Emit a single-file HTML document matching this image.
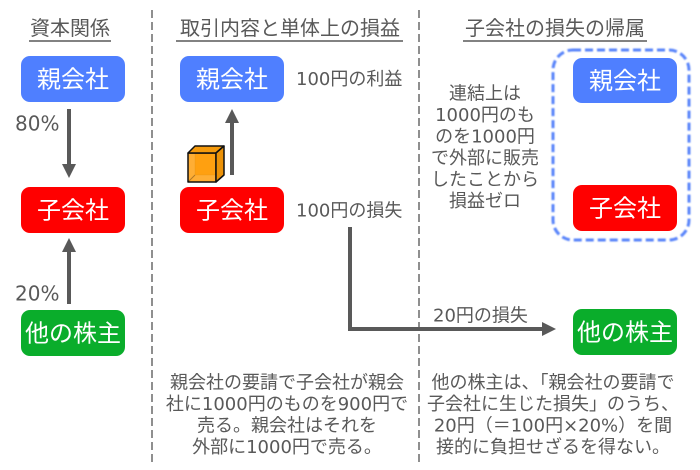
<!DOCTYPE html>
<html>
<head>
<meta charset="utf-8">
<style>
  html, body { margin: 0; padding: 0; background: #ffffff; }
  svg { display: block; }
  text { font-family: "Liberation Sans", "Noto Sans CJK JP", sans-serif; }
  .t { fill: #595959; font-size: 18px; font-family: "DejaVu Sans", "Noto Sans CJK JP", sans-serif; }
  .h { fill: #595959; font-size: 20px; }
  .b { fill: #ffffff; font-size: 24px; }
</style>
</head>
<body>
<svg width="700" height="470" viewBox="0 0 700 470" xmlns="http://www.w3.org/2000/svg">
  <defs>
    <filter id="glow" x="-10%" y="-10%" width="120%" height="120%">
      <feGaussianBlur stdDeviation="0.7"/>
    </filter>
  </defs>

  <!-- dashed column separators -->
  <line x1="152" y1="10" x2="152" y2="462" stroke="#8f8f8f" stroke-width="2" stroke-dasharray="8 4"/>
  <line x1="419" y1="10" x2="419" y2="462" stroke="#8f8f8f" stroke-width="2" stroke-dasharray="8 4"/>

  <!-- titles -->
  <text class="h" x="70" y="35" text-anchor="middle">資本関係</text>
  <line x1="29" y1="41" x2="111" y2="41" stroke="#595959" stroke-width="1.5"/>
  <text class="h" x="290" y="35" text-anchor="middle">取引内容と単体上の損益</text>
  <line x1="176" y1="41" x2="403" y2="41" stroke="#595959" stroke-width="1.5"/>
  <text class="h" x="555" y="35" text-anchor="middle">子会社の損失の帰属</text>
  <line x1="463" y1="41" x2="647" y2="41" stroke="#595959" stroke-width="1.5"/>

  <!-- LEFT column boxes -->
  <rect x="21" y="56" width="104" height="46" rx="9" fill="#4f7fff"/>
  <text class="b" x="73" y="87.5" text-anchor="middle">親会社</text>
  <rect x="21" y="187" width="104" height="46" rx="9" fill="#ff0000"/>
  <text class="b" x="73" y="218.5" text-anchor="middle">子会社</text>
  <rect x="21" y="310" width="104" height="46" rx="9" fill="#0aad2b"/>
  <text class="b" x="73" y="341.5" text-anchor="middle">他の株主</text>

  <!-- left arrows -->
  <line x1="69" y1="109" x2="69" y2="166" stroke="#595959" stroke-width="4"/>
  <polygon points="62,164 76,164 69,178" fill="#595959"/>
  <text class="t" x="15" y="130.5" style="font-size:20px">80%</text>

  <line x1="69" y1="304" x2="69" y2="250" stroke="#595959" stroke-width="4"/>
  <polygon points="62,252 76,252 69,238" fill="#595959"/>
  <text class="t" x="15" y="300.5" style="font-size:20px">20%</text>

  <!-- MIDDLE column -->
  <rect x="180" y="56" width="104" height="46" rx="9" fill="#4f7fff"/>
  <text class="b" x="232" y="87.5" text-anchor="middle">親会社</text>
  <rect x="180" y="187" width="104" height="46" rx="9" fill="#ff0000"/>
  <text class="b" x="232" y="218.5" text-anchor="middle">子会社</text>

  <text class="t" x="296" y="85">100円の利益</text>
  <text class="t" x="296" y="216.5">100円の損失</text>

  <!-- up arrow middle -->
  <line x1="232" y1="175" x2="232" y2="120" stroke="#595959" stroke-width="4"/>
  <polygon points="225,123 239,123 232,109" fill="#595959"/>

  <!-- cube -->
  <g stroke-linejoin="round">
    <polygon points="195,146 224,146 224,175 195,175" fill="#ffa011" stroke="rgba(0,0,0,0.25)" stroke-width="1"/>
    <rect x="188" y="153" width="28" height="29" fill="#ffa011" fill-opacity="0.85" stroke="#111" stroke-width="1.5"/>
    <polygon points="188,153 195,146 224,146 216,153" fill="#f59a0c" stroke="#111" stroke-width="1.5"/>
    <polygon points="216,153 224,146 224,175 216,182" fill="#ec9208" stroke="#111" stroke-width="1.5"/>
    <line x1="188" y1="182" x2="195" y2="175" stroke="rgba(0,0,0,0.3)" stroke-width="1"/>
  </g>

  <!-- connector from middle 子会社 to right 他の株主 -->
  <path d="M350 227 V329 H545" fill="none" stroke="#595959" stroke-width="4"/>
  <polygon points="542,322 542,336 556,329" fill="#595959"/>
  <text class="t" x="433" y="321.5">20円の損失</text>

  <!-- middle bottom description -->
  <text class="t" x="287" y="388.5" text-anchor="middle">親会社の要請で子会社が親会</text>
  <text class="t" x="287" y="410" text-anchor="middle">社に1000円のものを900円で</text>
  <text class="t" x="287" y="431.5" text-anchor="middle">売る。親会社はそれを</text>
  <text class="t" x="287" y="453" text-anchor="middle">外部に1000円で売る。</text>

  <!-- RIGHT column -->
  <rect x="553" y="50" width="136" height="190" rx="20" fill="none" stroke="#5a85fa" stroke-width="3" stroke-dasharray="8 4" filter="url(#glow)"/>
  <rect x="573" y="58" width="104" height="45" rx="9" fill="#4f7fff"/>
  <text class="b" x="625" y="89" text-anchor="middle">親会社</text>
  <rect x="573" y="185" width="104" height="46" rx="9" fill="#ff0000"/>
  <text class="b" x="625" y="216.5" text-anchor="middle">子会社</text>
  <rect x="573" y="309" width="104" height="46" rx="9" fill="#0aad2b"/>
  <text class="b" x="625" y="340.5" text-anchor="middle">他の株主</text>

  <text class="t" x="485" y="99.5" text-anchor="middle">連結上は</text>
  <text class="t" x="485" y="121" text-anchor="middle">1000円のも</text>
  <text class="t" x="485" y="142.5" text-anchor="middle">のを1000円</text>
  <text class="t" x="485" y="164" text-anchor="middle">で外部に販売</text>
  <text class="t" x="485" y="185.5" text-anchor="middle">したことから</text>
  <text class="t" x="485" y="207" text-anchor="middle">損益ゼロ</text>

  <!-- right bottom description -->
  <text class="t" x="553" y="388.5" text-anchor="middle">他の株主は、「親会社の要請で</text>
  <text class="t" x="553" y="410" text-anchor="middle">子会社に生じた損失」のうち、</text>
  <text class="t" x="553" y="431.5" text-anchor="middle">20円（＝100円×20%）を間</text>
  <text class="t" x="553" y="453" text-anchor="middle">接的に負担せざるを得ない。</text>
</svg>
</body>
</html>
